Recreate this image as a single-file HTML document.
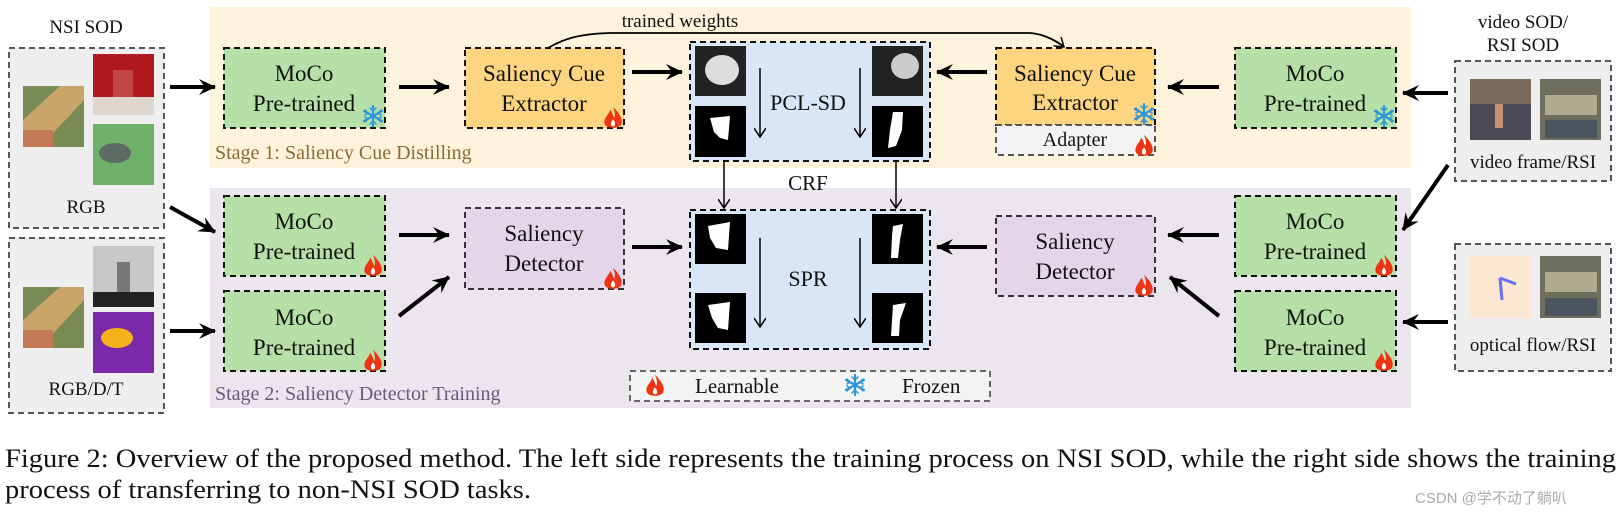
<!DOCTYPE html>
<html><head><meta charset="utf-8"><style>
html,body{margin:0;padding:0;background:#fff;width:1621px;height:522px;overflow:hidden}
svg{display:block}
text{font-family:"Liberation Serif",serif;fill:#111}
</style></head><body>
<svg width="1621" height="522" viewBox="0 0 1621 522" xmlns="http://www.w3.org/2000/svg">
<defs>
<marker id="at" markerWidth="10" markerHeight="12" refX="9" refY="6" orient="auto" markerUnits="userSpaceOnUse"><path d="M0,0 L9,6 L0,12" fill="none" stroke="#000" stroke-width="1.5"/></marker>
<marker id="big" markerWidth="20" markerHeight="20" refX="16" refY="10" orient="auto" markerUnits="userSpaceOnUse"><path d="M0,2 L17,10 L0,18 L6,10 Z" fill="#000"/></marker>
<g id="flame"><g transform="scale(1.4)"><path d="M0,-8 C5,-3 7,1 6,4 C5,8 -5,8 -6,4 C-7,0 -3,-2 -2,-6 C0,-3 0,-1 1,0 C2,-3 1,-5 0,-8Z" fill="#ee3311"/><path d="M0,1 C2,3 2,6 0,6 C-2,6 -2,3 0,1Z" fill="#fff"/></g></g>
<g id="snow" stroke="#2a96dc" stroke-width="2.2" stroke-linecap="round" fill="none"><line x1="0" y1="-10" x2="0" y2="10"/><line x1="-9" y1="-5" x2="9" y2="5"/><line x1="-9" y1="5" x2="9" y2="-5"/><path d="M-3,-8 L0,-5 L3,-8 M-3,8 L0,5 L3,8 M-8,-1 L-5,-3 L-8,-6 M8,1 L5,3 L8,6 M-8,1 L-5,3 L-8,6 M8,-1 L5,-3 L8,-6" stroke-width="1.5"/></g>
</defs>

<rect x="210" y="7" width="1201" height="161" fill="#fdf3dd"/>
<rect x="210" y="188" width="1201" height="220" fill="#ebe5ee"/>
<text x="215" y="159" font-size="20" style="fill:#8a6a30">Stage 1: Saliency Cue Distilling</text>
<text x="215" y="400" font-size="20" style="fill:#6a5a7a">Stage 2: Saliency Detector Training</text>

<text x="86" y="33" font-size="19" text-anchor="middle">NSI SOD</text>
<rect x="9" y="48" width="155" height="180" fill="#eeeeee" stroke="#555" stroke-width="2" stroke-dasharray="6,4"/>
<rect x="23" y="86" width="61" height="61" fill="#7a8a55"/><path d="M23,120 L60,86 L84,86 L84,100 L40,147 L23,147Z" fill="#c9a56a"/><rect x="23" y="130" width="30" height="17" fill="#c27a55"/>
<rect x="93" y="54" width="61" height="61" fill="#b01820"/><rect x="93" y="97" width="61" height="18" fill="#e0d6d0"/><rect x="113" y="70" width="20" height="27" fill="#c04545"/>
<rect x="93" y="124" width="61" height="61" fill="#6fb06a"/><ellipse cx="115" cy="153" rx="16" ry="10" fill="#5d6b62"/>
<text x="86" y="213" font-size="19" text-anchor="middle">RGB</text>
<rect x="9" y="238" width="155" height="175" fill="#eeeeee" stroke="#555" stroke-width="2" stroke-dasharray="6,4"/>
<rect x="23" y="287" width="61" height="61" fill="#7a8a55"/><path d="M23,320 L60,287 L84,287 L84,300 L40,348 L23,348Z" fill="#c9a56a"/><rect x="23" y="330" width="30" height="18" fill="#c27a55"/>
<rect x="93" y="246" width="61" height="61" fill="#c8c8c8"/><rect x="93" y="292" width="61" height="15" fill="#222"/><rect x="117" y="262" width="13" height="30" fill="#777"/>
<rect x="93" y="312" width="61" height="61" fill="#7a2aa8"/><ellipse cx="117" cy="338" rx="16" ry="10" fill="#f5b21a"/>
<text x="86" y="395" font-size="19" text-anchor="middle">RGB/D/T</text>

<g font-size="23" text-anchor="middle">
<rect x="224" y="48" width="161" height="80" fill="#b7e0a8" stroke="#111" stroke-width="2" stroke-dasharray="6,4"/>
<text x="304" y="81">MoCo</text><text x="304" y="111">Pre-trained</text>
<rect x="224" y="196" width="161" height="80" fill="#b7e0a8" stroke="#111" stroke-width="2" stroke-dasharray="6,4"/>
<text x="304" y="229">MoCo</text><text x="304" y="259">Pre-trained</text>
<rect x="224" y="291" width="161" height="80" fill="#b7e0a8" stroke="#111" stroke-width="2" stroke-dasharray="6,4"/>
<text x="304" y="325">MoCo</text><text x="304" y="355">Pre-trained</text>

<rect x="465" y="48" width="159" height="80" fill="#fdd47f" stroke="#111" stroke-width="2" stroke-dasharray="6,4"/>
<text x="544" y="81">Saliency Cue</text><text x="544" y="111">Extractor</text>
<rect x="465" y="208" width="159" height="81" fill="#e3d6e8" stroke="#333" stroke-width="2" stroke-dasharray="6,4"/>
<text x="544" y="241">Saliency</text><text x="544" y="271">Detector</text>

<rect x="996" y="48" width="159" height="77" fill="#fdd47f" stroke="#111" stroke-width="2" stroke-dasharray="6,4"/>
<text x="1075" y="81">Saliency Cue</text><text x="1075" y="110">Extractor</text>
<rect x="996" y="125" width="159" height="30" fill="#f3f3f3" stroke="#555" stroke-width="2" stroke-dasharray="6,4"/>
<text x="1075" y="146" font-size="20">Adapter</text>
<rect x="996" y="216" width="159" height="80" fill="#e3d6e8" stroke="#333" stroke-width="2" stroke-dasharray="6,4"/>
<text x="1075" y="249">Saliency</text><text x="1075" y="279">Detector</text>

<rect x="1235" y="48" width="161" height="80" fill="#b7e0a8" stroke="#111" stroke-width="2" stroke-dasharray="6,4"/>
<text x="1315" y="81">MoCo</text><text x="1315" y="111">Pre-trained</text>
<rect x="1235" y="196" width="161" height="80" fill="#b7e0a8" stroke="#111" stroke-width="2" stroke-dasharray="6,4"/>
<text x="1315" y="229">MoCo</text><text x="1315" y="259">Pre-trained</text>
<rect x="1235" y="291" width="161" height="80" fill="#b7e0a8" stroke="#111" stroke-width="2" stroke-dasharray="6,4"/>
<text x="1315" y="325">MoCo</text><text x="1315" y="355">Pre-trained</text>
</g>

<use href="#snow" x="373" y="116"/>
<use href="#flame" x="373" y="266"/>
<use href="#flame" x="373" y="361"/>
<use href="#flame" x="613" y="118"/>
<use href="#flame" x="613" y="279"/>
<use href="#snow" x="1144" y="114"/>
<use href="#flame" x="1144" y="146"/>
<use href="#flame" x="1144" y="286"/>
<use href="#snow" x="1384" y="116"/>
<use href="#flame" x="1384" y="266"/>
<use href="#flame" x="1384" y="361"/>

<rect x="690" y="42" width="240" height="119" fill="#d8e6f8" stroke="#111" stroke-width="2" stroke-dasharray="6,4"/>
<rect x="695" y="46" width="51" height="50" fill="#222"/><ellipse cx="722" cy="70" rx="17" ry="15" fill="#ddd"/>
<rect x="695" y="106" width="51" height="51" fill="#000"/><path d="M710,118 L730,116 L728,140 L720,138 L714,132Z" fill="#fff"/>
<rect x="872" y="46" width="51" height="50" fill="#222"/><ellipse cx="905" cy="66" rx="14" ry="13" fill="#ccc"/>
<rect x="872" y="106" width="51" height="51" fill="#000"/><path d="M893,112 L903,112 L902,130 L896,146 L888,148 L890,130Z" fill="#fff"/>
<line x1="760" y1="68" x2="760" y2="137" stroke="#000" stroke-width="1.5" marker-end="url(#at)"/>
<line x1="860" y1="68" x2="860" y2="137" stroke="#000" stroke-width="1.5" marker-end="url(#at)"/>
<text x="808" y="110" font-size="22" text-anchor="middle">PCL-SD</text>

<rect x="690" y="210" width="240" height="139" fill="#d8e6f8" stroke="#111" stroke-width="2" stroke-dasharray="6,4"/>
<rect x="695" y="214" width="51" height="50" fill="#000"/><path d="M708,226 L730,222 L728,250 L716,248 L710,238Z" fill="#fff"/>
<rect x="695" y="293" width="51" height="50" fill="#000"/><path d="M708,305 L730,302 L728,330 L718,328 L712,318Z" fill="#fff"/>
<rect x="872" y="214" width="51" height="50" fill="#000"/><path d="M893,226 L903,224 L900,240 L898,258 L891,258 L892,236Z" fill="#fff"/>
<rect x="872" y="293" width="51" height="50" fill="#000"/><path d="M893,305 L906,303 L900,320 L899,336 L891,336Z" fill="#fff"/>
<line x1="760" y1="238" x2="760" y2="327" stroke="#000" stroke-width="1.5" marker-end="url(#at)"/>
<line x1="860" y1="238" x2="860" y2="327" stroke="#000" stroke-width="1.5" marker-end="url(#at)"/>
<text x="808" y="286" font-size="22" text-anchor="middle">SPR</text>
<line x1="724" y1="161" x2="724" y2="208" stroke="#000" stroke-width="1.5" marker-end="url(#at)"/>
<line x1="896" y1="161" x2="896" y2="208" stroke="#000" stroke-width="1.5" marker-end="url(#at)"/>
<text x="808" y="190" font-size="21" text-anchor="middle">CRF</text>

<text x="680" y="27" font-size="19" text-anchor="middle">trained weights</text>
<path d="M548,48 C565,38 580,34 610,33 L1030,33 C1045,34 1058,42 1064,47" fill="none" stroke="#000" stroke-width="1.8" marker-end="url(#at)"/>

<text x="1523" y="28" font-size="19" text-anchor="middle">video SOD/</text>
<text x="1523" y="51" font-size="19" text-anchor="middle">RSI SOD</text>
<rect x="1455" y="61" width="156" height="120" fill="#eeeeee" stroke="#555" stroke-width="2" stroke-dasharray="6,4"/>
<rect x="1470" y="79" width="61" height="61" fill="#4a4a55"/><rect x="1470" y="79" width="61" height="25" fill="#7a6a5a"/><rect x="1495" y="104" width="8" height="24" fill="#c49070"/>
<rect x="1540" y="79" width="61" height="61" fill="#6e6e5e"/><rect x="1545" y="95" width="52" height="20" fill="#b0ab8f"/><rect x="1545" y="120" width="52" height="18" fill="#4a5560"/>
<text x="1533" y="168" font-size="19" text-anchor="middle">video frame/RSI</text>
<rect x="1455" y="244" width="156" height="127" fill="#eeeeee" stroke="#555" stroke-width="2" stroke-dasharray="6,4"/>
<rect x="1470" y="256" width="61" height="62" fill="#fbe6d2"/><path d="M1500,278 L1502,300 M1500,278 L1516,284" stroke="#6a70f0" stroke-width="3" fill="none"/>
<rect x="1540" y="256" width="61" height="62" fill="#6e6e5e"/><rect x="1545" y="272" width="52" height="20" fill="#b0ab8f"/><rect x="1545" y="298" width="52" height="18" fill="#4a5560"/>
<text x="1533" y="351" font-size="19" text-anchor="middle">optical flow/RSI</text>

<g stroke="#000" stroke-width="4" marker-end="url(#big)">
<line x1="170" y1="87" x2="215" y2="87"/>
<line x1="170" y1="207" x2="215" y2="232"/>
<line x1="170" y1="331" x2="215" y2="331"/>
<line x1="399" y1="87" x2="449" y2="87"/>
<line x1="399" y1="235" x2="449" y2="235"/>
<line x1="399" y1="316" x2="449" y2="277"/>
<line x1="632" y1="72" x2="682" y2="72"/>
<line x1="632" y1="247" x2="682" y2="247"/>
<line x1="987" y1="72" x2="937" y2="72"/>
<line x1="987" y1="247" x2="937" y2="247"/>
<line x1="1219" y1="87" x2="1168" y2="87"/>
<line x1="1219" y1="235" x2="1168" y2="235"/>
<line x1="1219" y1="316" x2="1170" y2="277"/>
<line x1="1448" y1="93" x2="1403" y2="93"/>
<line x1="1448" y1="165" x2="1403" y2="230"/>
<line x1="1448" y1="322" x2="1403" y2="322"/>
</g>

<rect x="630" y="371" width="360" height="30" fill="#f3f3f3" stroke="#666" stroke-width="2" stroke-dasharray="6,4"/>
<use href="#flame" x="655" y="386"/>
<text x="695" y="393" font-size="21">Learnable</text>
<use href="#snow" x="855" y="385"/>
<text x="902" y="393" font-size="21">Frozen</text>

<text x="5" y="467" font-size="26" textLength="1611" lengthAdjust="spacingAndGlyphs">Figure 2: Overview of the proposed method. The left side represents the training process on NSI SOD, while the right side shows the training</text>
<text x="5" y="498" font-size="26" textLength="526" lengthAdjust="spacingAndGlyphs">process of transferring to non-NSI SOD tasks.</text>
<text x="1415" y="503" font-size="15" style="fill:#aaa;font-family:'Liberation Sans','Noto Sans CJK SC',sans-serif">CSDN @学不动了躺叭</text>
</svg>
</body></html>
